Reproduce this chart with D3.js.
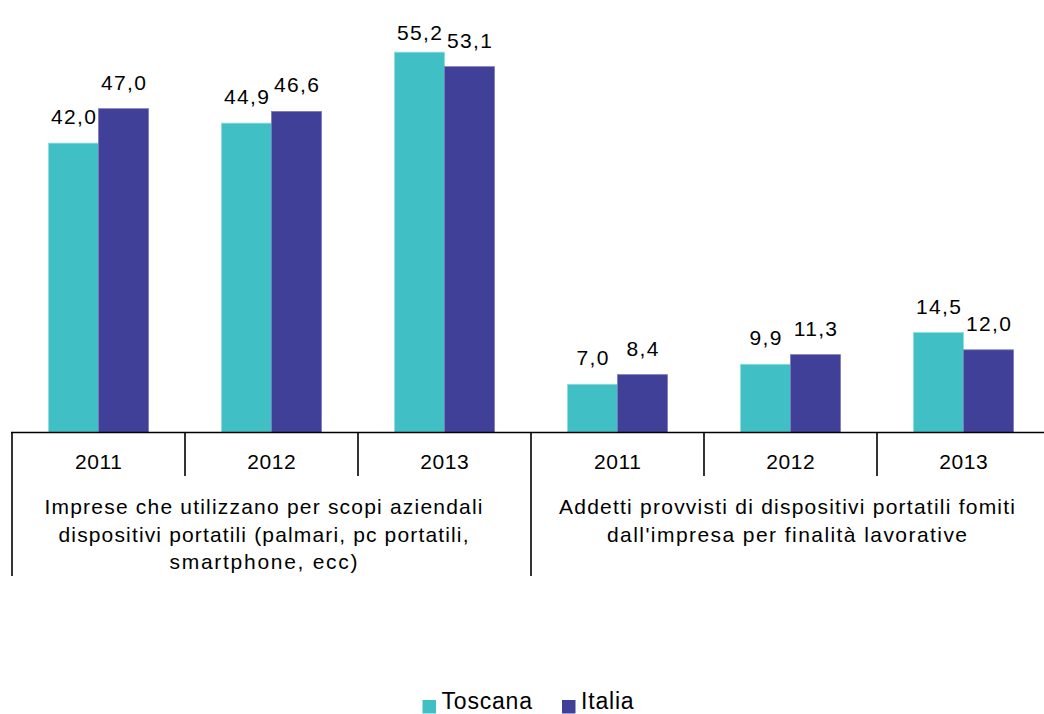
<!DOCTYPE html>
<html><head><meta charset="utf-8">
<script src="https://cdn.jsdelivr.net/npm/d3@7"></script>
<style>
html,body{margin:0;padding:0;background:#fff;}
svg{display:block;font-family:"Liberation Sans",Arial,sans-serif;}
</style></head>
<body>
<svg id="chart" width="1044" height="714"></svg>
<script>
const years = ["2011","2012","2013"];
const categoryLines = [
  ["Imprese che utilizzano per scopi aziendali", "dispositivi portatili (palmari, pc portatili,", "smartphone, ecc)"],
  ["Addetti provvisti di dispositivi portatili fomiti", "dall'impresa per finalità lavorative"]
];
const seriesNames = ["Toscana","Italia"];
const toscana = [42.0, 44.9, 55.2, 7.0, 9.9, 14.5];
const italia  = [47.0, 46.6, 53.1, 8.4, 11.3, 12.0];
const colors = {Toscana:"#40c0c4", Italia:"#404098"};
// rendered widths of the category label lines (layout only)
const lineWidths = [[438, 410, 188], [456, 360]];

const svg = d3.select("#chart");
const fmt = d3.formatLocale({decimal:",",thousands:".",grouping:[3],currency:["","€"]}).format(".1f");

const baseY = 432.5;
const y = d3.scaleLinear().domain([0,60]).range([baseY, baseY - 60*6.89]);
const groups = d3.range(6);
const x0 = d3.scaleBand().domain(groups).range([12, 12 + 6*173]).padding(0);
const x1 = d3.scaleBand().domain(seriesNames).range([36.5, x0.bandwidth()-36.5]).padding(0);

const rows = groups.map(i => ({i, year: years[i%3], cat: Math.floor(i/3), vals: [
  {k:"Toscana", v: toscana[i]}, {k:"Italia", v: italia[i]}]}));

const g = svg.append("g");
const gg = g.selectAll(".grp").data(rows).join("g").attr("transform", d => `translate(${x0(d.i)},0)`);
gg.selectAll("rect").data(d => d.vals).join("rect")
  .attr("x", d => x1(d.k)).attr("width", x1.bandwidth())
  .attr("y", d => y(d.v)).attr("height", d => baseY - y(d.v))
  .attr("fill", d => colors[d.k])
  .attr("stroke", d => d.k === "Italia" ? "#7b7bc0" : "#8fdcdf").attr("stroke-width", 0.8);
gg.selectAll("text.lbl").data(d => d.vals).join("text").attr("class","lbl")
  .attr("x", d => x1(d.k) + x1.bandwidth()/2 + 0.6)
  .attr("y", d => Math.max(y(d.v) - 19, 40))
  .attr("text-anchor","middle").attr("font-size",21).attr("letter-spacing","1.3px").attr("fill","#000")
  .text(d => fmt(d.v));

// axis
g.append("line").attr("x1", 11).attr("x2", 1044).attr("y1", baseY).attr("y2", baseY)
  .attr("stroke","#000").attr("stroke-width",1.6);
groups.forEach(i => {
  const long = i % 3 === 0;
  g.append("line").attr("x1", x0(i)).attr("x2", x0(i)).attr("y1", baseY).attr("y2", long ? 576 : 476)
    .attr("stroke","#000").attr("stroke-width",1.6);
});
// year labels
gg.append("text").attr("x", x0.bandwidth()/2 + 0.3).attr("y", 469).attr("text-anchor","middle")
  .attr("font-size",21).attr("letter-spacing","0.6px").attr("fill","#000").text(d => d.year);
// category labels
const catCenters = [x0(0) + 3*x0.bandwidth()/2 - 8, x0(3) + 3*x0.bandwidth()/2 - 3.5];
categoryLines.forEach((lines, c) => {
  lines.forEach((ln, j) => {
    const w = lineWidths[c][j];
    g.append("text").attr("x", catCenters[c] - w/2).attr("y", 514 + j*27.5)
      .attr("textLength", w).attr("lengthAdjust","spacing")
      .attr("font-size",21).attr("fill","#000").text(ln);
  });
});
// legend
const legX = [422.5, 562];
seriesNames.forEach((s, i) => {
  g.append("rect").attr("x", legX[i]).attr("y", 700).attr("width",13.5).attr("height",13.5).attr("fill", colors[s]);
  g.append("text").attr("x", legX[i] + 19).attr("y", 709).attr("font-size",23).attr("letter-spacing","0.8px")
    .attr("fill","#000").text(s);
});
</script>
</body></html>
